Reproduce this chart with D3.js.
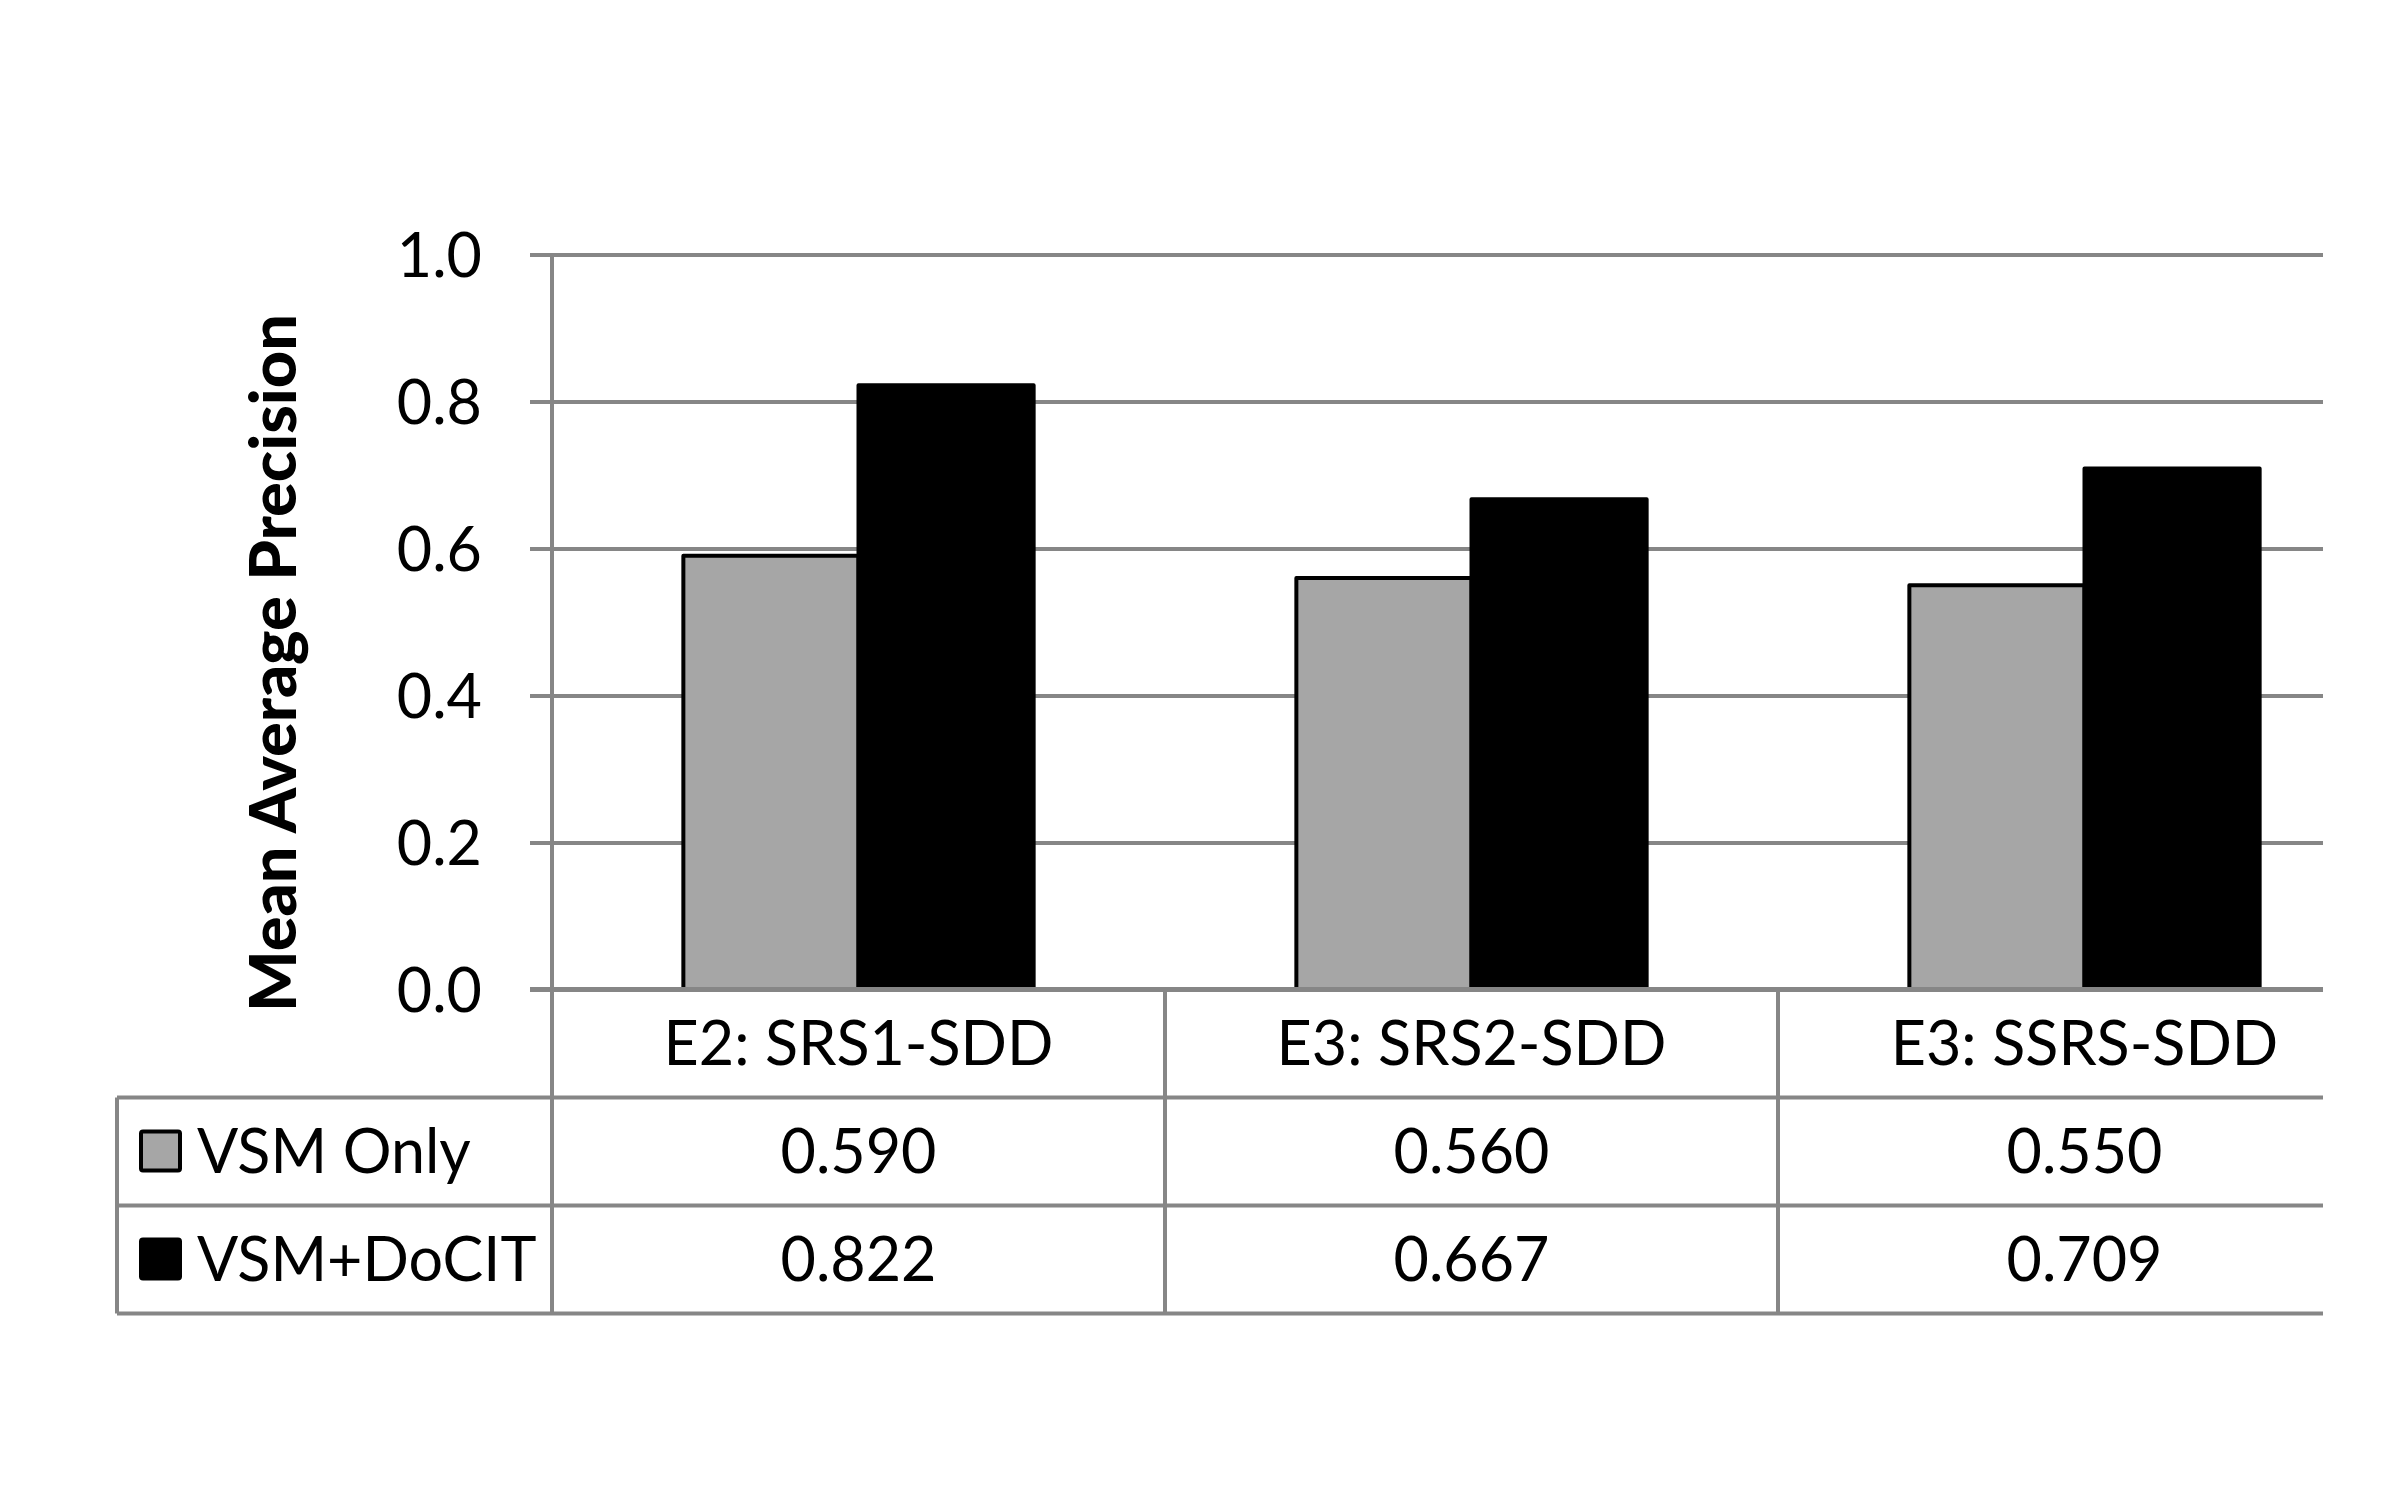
<!DOCTYPE html>
<html>
<head>
<meta charset="utf-8">
<script src="https://cdn.jsdelivr.net/npm/d3@7"></script>
<style>
  body { margin: 0; background: #fff; }
  svg text { font-family: Lato, "Open Sans", sans-serif; fill: #000; }
</style>
</head>
<body>
<svg id="chart" width="2400" height="1500"></svg>
<script>
// chart data
var categories = ["E2: SRS1-SDD", "E3: SRS2-SDD", "E3: SSRS-SDD"];
var seriesNames = ["VSM Only", "VSM+DoCIT"];
var vsmOnly = [0.590, 0.560, 0.550];
var vsmDocit = [0.822, 0.667, 0.709];
var yTicks = [0.0, 0.2, 0.4, 0.6, 0.8, 1.0];
var seriesColors = ["#a6a6a6", "#000000"];

var seriesValues = [vsmOnly, vsmDocit];
var gridColor = "#868686";

var plotLeft = 552, clipRight = 2323, catWidth = 613;
var plotTop = 254.5, plotBottom = 989.5;
var tableLeft = 117, rowH = 108;
var fontSize = 61;

var svg = d3.select("#chart");

svg.append("defs").append("clipPath")
   .attr("id", "plotClip")
   .append("rect")
   .attr("x", 0).attr("y", 0)
   .attr("width", clipRight).attr("height", 1500);

var root = svg.append("g").attr("clip-path", "url(#plotClip)");

var x = d3.scaleBand()
   .domain(categories)
   .range([plotLeft, plotLeft + catWidth * categories.length])
   .paddingInner(0).paddingOuter(0);

// 150% gap width between the bar pairs
var xs = d3.scaleBand()
   .domain(seriesNames)
   .range([0, x.bandwidth()])
   .paddingInner(0).paddingOuter(0.75);

var y = d3.scaleLinear().domain([0, 1]).range([plotBottom, plotTop]);

// gridlines + tick labels
var yAxis = d3.axisLeft(y)
   .tickValues(yTicks)
   .tickFormat(d3.format(".1f"))
   .tickSize(-(clipRight - plotLeft))
   .tickPadding(70);

var ga = root.append("g")
   .attr("class", "yaxis")
   .attr("transform", "translate(" + plotLeft + ",0)")
   .call(yAxis);
ga.select(".domain").remove();
ga.selectAll(".tick line")
   .attr("x1", -22)
   .attr("stroke", gridColor)
   .attr("stroke-width", 4);
ga.selectAll(".tick text")
   .attr("font-size", fontSize)
   .attr("font-family", "Lato, sans-serif")
   .attr("fill", "#000")
   .attr("dy", "0.36em");

// bars
var rows = [];
categories.forEach(function(c, i) {
   seriesNames.forEach(function(s, j) {
      rows.push({cat: c, series: s, value: seriesValues[j][i], color: seriesColors[j]});
   });
});

root.append("g")
   .selectAll("rect")
   .data(rows)
   .enter().append("rect")
   .attr("x", function(d) { return x(d.cat) + xs(d.series); })
   .attr("y", function(d) { return y(d.value); })
   .attr("width", xs.bandwidth())
   .attr("height", function(d) { return y(0) - y(d.value); })
   .attr("fill", function(d) { return d.color; })
   .attr("stroke", "#000")
   .attr("stroke-width", 4)
   .attr("stroke-linejoin", "round");

// table lines
var rowY = [plotBottom, plotBottom + rowH, plotBottom + 2 * rowH, plotBottom + 3 * rowH];
var lines = root.append("g")
   .attr("stroke", gridColor)
   .attr("stroke-width", 4)
   .attr("fill", "none");

lines.append("line")
   .attr("x1", plotLeft - 22).attr("x2", clipRight)
   .attr("y1", rowY[0]).attr("y2", rowY[0])
   .attr("stroke-width", 5);
[1, 2, 3].forEach(function(r) {
   lines.append("line")
      .attr("x1", tableLeft).attr("x2", clipRight)
      .attr("y1", rowY[r]).attr("y2", rowY[r]);
});
lines.append("line")
   .attr("x1", plotLeft).attr("x2", plotLeft)
   .attr("y1", plotTop).attr("y2", rowY[3]);
lines.append("line")
   .attr("x1", tableLeft).attr("x2", tableLeft)
   .attr("y1", rowY[1]).attr("y2", rowY[3]);
categories.slice(1).forEach(function(c) {
   lines.append("line")
      .attr("x1", x(c)).attr("x2", x(c))
      .attr("y1", rowY[0]).attr("y2", rowY[3]);
});

// category header row
root.append("g")
   .selectAll("text")
   .data(categories)
   .enter().append("text")
   .attr("x", function(d) { return x(d) + x.bandwidth() / 2; })
   .attr("y", (rowY[0] + rowY[1]) / 2)
   .attr("dy", "0.36em")
   .attr("text-anchor", "middle")
   .attr("font-size", fontSize)
   .text(function(d) { return d; });

// value rows + legend keys
seriesNames.forEach(function(s, j) {
   var cy = (rowY[j + 1] + rowY[j + 2]) / 2;
   var g = root.append("g");
   g.append("rect")
      .attr("x", 141).attr("y", cy - 20)
      .attr("width", 39).attr("height", 39)
      .attr("rx", 2)
      .attr("fill", seriesColors[j])
      .attr("stroke", "#000")
      .attr("stroke-width", 4);
   g.append("text")
      .attr("x", 197).attr("y", cy)
      .attr("dy", "0.36em")
      .attr("font-size", fontSize)
      .text(s);
   g.selectAll("text.val")
      .data(seriesValues[j])
      .enter().append("text")
      .attr("class", "val")
      .attr("x", function(d, i) { return x(categories[i]) + x.bandwidth() / 2; })
      .attr("y", cy)
      .attr("dy", "0.36em")
      .attr("text-anchor", "middle")
      .attr("font-size", fontSize)
      .text(function(d) { return d3.format(".3f")(d); });
});

// y axis title
svg.append("text")
   .attr("transform", "translate(296," + 663 + ")rotate(-90)")
   .attr("text-anchor", "middle")
   .attr("font-size", 64)
   .attr("font-weight", 900)
   .attr("textLength", 698)
   .attr("lengthAdjust", "spacingAndGlyphs")
   .text("Mean Average Precision");
</script>
</body>
</html>
